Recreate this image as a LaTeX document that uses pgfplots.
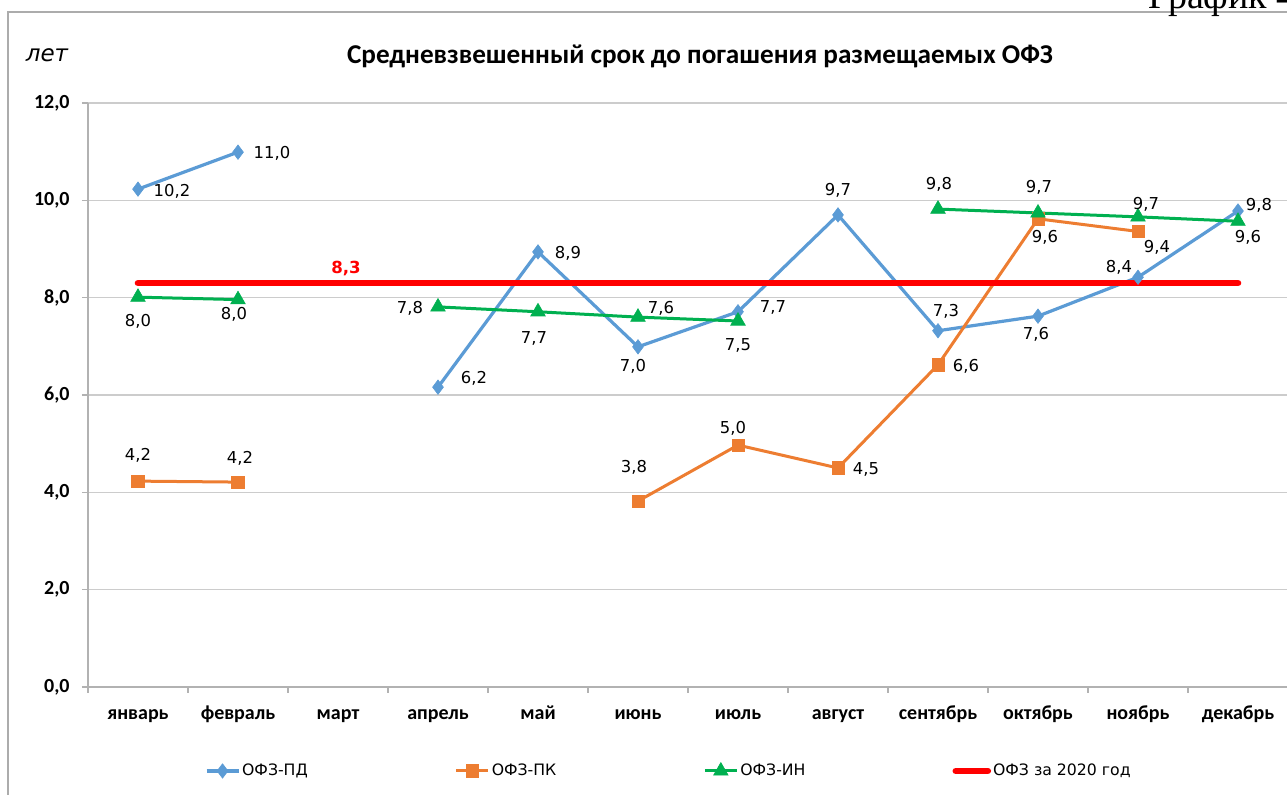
\documentclass[border=0pt]{standalone}
\usepackage{pgfplots}
\pgfplotsset{compat=1.18}
\usepackage{pgfplotstable}
\usepackage{fontspec}
\setmainfont{DejaVu Sans}
\newfontfamily\calfont{Carlito}
\newfontfamily\grser{Liberation Serif}

\definecolor{cpd}{HTML}{5B9BD5}
\definecolor{cpk}{HTML}{ED7D31}
\definecolor{cin}{HTML}{00B050}
\definecolor{cred}{HTML}{FF0000}

\pgfplotstableread{
x y lab dx dy
0 10.23 10,2 34 -2
1 10.99 11,0 34 -1
2 nan x 0 0
3 6.16 6,2 36 9
4 8.94 8,9 30 -1
5 6.99 7,0 -5 -20
6 7.71 7,7 35 4
7 9.70 9,7 0 25
8 7.32 7,3 8 19
9 7.62 7,6 -2 -18
10 8.42 8,4 -19 10
11 9.78 9,8 21 6
}\pd

\pgfplotstableread{
x y lab dx dy
0 4.23 4,2 0 26
1 4.21 4,2 2 24
2 nan x 0 0
3 nan x 0 0
4 nan x 0 0
5 3.82 3,8 -4 34
6 4.97 5,0 -5 17
7 4.50 4,5 28 -1
8 6.62 6,6 28 -2
9 9.62 9,6 7 -19
10 9.36 9,4 19 -16
11 nan x 0 0
}\pk

\pgfplotstableread{
x y lab dx dy
0 8.01 8,0 0 -24
1 7.96 8,0 -4 -15
2 nan x 0 0
3 7.81 7,8 -28 -1
4 7.71 7,7 -4 -27
5 7.60 7,6 23 9
6 7.52 7,5 0 -24
7 nan x 0 0
8 9.82 9,8 1 25
9 9.74 9,7 1 26
10 9.66 9,7 8 12
11 9.57 9,6 10 -16
}\inn

\pgfplotstableread{
x y
0 8.3
1 8.3
2 8.3
3 8.3
4 8.3
5 8.3
6 8.3
7 8.3
8 8.3
9 8.3
10 8.3
11 8.3
}\tot

\pgfplotsset{
  dlab/.style={
    nodes near coords,
    point meta=explicit symbolic,
    visualization depends on={\thisrow{dx} \as \ldx},
    visualization depends on={\thisrow{dy} \as \ldy},
    every node near coord/.append style={anchor=center, inner sep=0pt, text=black,
      font=\fontsize{8.2}{10}\selectfont,
      xshift={\ldx*0.5pt}, yshift={\ldy*0.5pt}},
  },
}

\begin{document}
\begin{tikzpicture}[x=0.5pt,y=0.5pt]
\useasboundingbox (0,0) rectangle (1287,795);
\clip (0,0) rectangle (1287,795);
\draw[gray!65, line width=0.6pt] (8,-20) -- (8,783) -- (1320,783);
\node[anchor=base west, inner sep=0pt, font=\grser\fontsize{19}{22}\selectfont] at (1148,786) {График 4};
\node[font=\calfont\bfseries\fontsize{13.6}{16}\selectfont] at (700,739) {Средневзвешенный срок до погашения размещаемых ОФЗ};
\node[font=\itshape\fontsize{11.5}{13}\selectfont] at (47,740) {лет};

\begin{axis}[
  at={(44pt,54pt)}, anchor=south west,
  scale only axis, width=600pt, height=292pt,
  xmin=-0.5, xmax=11.5, ymin=0, ymax=12,
  axis x line*=bottom, axis y line*=left,
  axis line style={draw=gray!60, line width=0.6pt},
  ytick={0,2,...,12},
  yticklabels={{0,0},{2,0},{4,0},{6,0},{8,0},{10,0},{12,0}},
  ymajorgrids, grid style={gray!40, line width=0.6pt},
  xtick={0,...,11},
  xticklabels={январь,февраль,март,апрель,май,июнь,июль,август,сентябрь,октябрь,ноябрь,декабрь},
  minor xtick={-0.5,0.5,...,11.5},
  tick align=outside, major tick length=3pt, minor tick length=3pt,
  major x tick style={draw=none},
  tick style={gray!60, line width=0.6pt},
  ticklabel style={font=\calfont\bfseries\fontsize{10}{12}\selectfont},
  yticklabel style={anchor=east, inner sep=0pt, xshift=-6pt},
  xticklabel style={anchor=base, inner sep=0pt, yshift=-13.5pt},
  unbounded coords=jump,
  clip=false,
  legend columns=4,
  legend style={at={(axis description cs:0.484,-0.1438)}, anchor=center,
    draw=none, fill=none, inner sep=0pt,
    font=\fontsize{7.85}{9}\selectfont,
    nodes={inner sep=1pt},
    /tikz/every even column/.append style={column sep=72.5pt}},
  legend image code/.code={\draw[mark repeat=2, mark phase=2] plot coordinates {(0pt,0pt) (8pt,0pt) (16pt,0pt)};},
]
\addplot[cpd, line width=1.6pt, mark=diamond*, mark size=3.6pt,
  mark options={fill=cpd, draw=cpd, line width=0.3pt}, dlab]
  table[x=x, y=y, meta=lab]{\pd};
\addlegendentry{ОФЗ-ПД}
\addplot[cpk, line width=1.5pt, mark=square*, mark size=3.1pt,
  mark options={fill=cpk, draw=cpk, line width=0.3pt}, dlab]
  table[x=x, y=y, meta=lab]{\pk};
\addlegendentry{ОФЗ-ПК}
\addplot[cin, line width=1.5pt, mark=triangle*, mark size=4.2pt,
  mark options={fill=cin, draw=cin, line width=0.3pt}, dlab]
  table[x=x, y=y, meta=lab]{\inn};
\addlegendentry{ОФЗ-ИН}
\addplot[cred, line width=3.3pt, line cap=round, mark=none]
  table[x=x, y=y]{\tot};
\addlegendentry{ОФЗ за 2020 год}
\addplot[draw=none, mark=none, forget plot, nodes near coords, point meta=explicit symbolic,
  every node near coord/.append style={anchor=center, inner sep=0pt, text=cred,
    font=\bfseries\fontsize{8.3}{10}\selectfont, xshift=4pt, yshift=7.5pt}]
  coordinates {(2,8.3) [8,3]};
\end{axis}
\end{tikzpicture}
\end{document}
